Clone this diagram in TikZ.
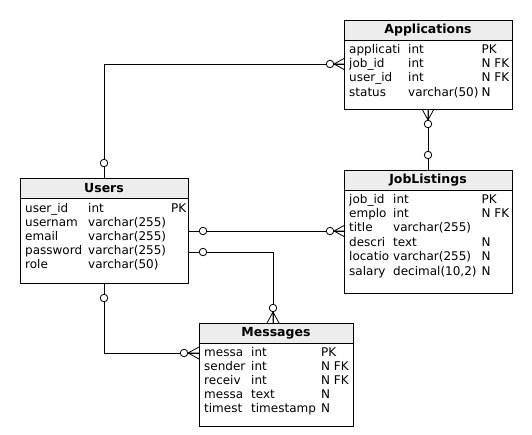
\documentclass[tikz,border=0pt]{standalone}
\usepackage{fontspec}
\setmainfont{DejaVu Sans}

\begin{document}
\begin{tikzpicture}[
        x=1pt, y=-1pt,
        font=\fontsize{12}{14}\selectfont,
        thead/.style={rectangle, draw=black, fill=black!7, line width=0.8pt, minimum width=168pt, minimum height=20pt, inner sep=0pt, font=\fontsize{12.5}{14}\selectfont\bfseries},
        tbody/.style={rectangle, draw=black, line width=0.8pt, minimum width=168pt, inner sep=0pt, anchor=north},
        cell/.style={anchor=base west, inner sep=0pt},
        link/.style={draw, black, line width=0.9pt},
        ring/.style={circle, draw=black, fill=white, line width=0.8pt, minimum size=7.5pt, inner sep=0pt},
        crow/.pic={\draw[line width=0.8pt] (0,0) -- (11,-6) (0,0) -- (11,0) (0,0) -- (11,6);}
    ]
    \useasboundingbox (0,0) rectangle (532,434);

    % ==========================================
    % 1. Tables
    % ==========================================
    % Applications
    \node[thead] (apph) at (428, 30) {Applications};
    \node[tbody, minimum height=69pt] (appb) at (apph.south) {};
    \foreach \n/\t/\k [count=\i] in {applicati/int/PK, job\_id/int/N FK, user\_id/int/N FK, status/varchar(50)/N} {
        \node[cell] (appn\i) at ({349}, {53+14.4*(\i-1)}) {\n};
        \node[cell] (appt\i) at ({408}, {53+14.4*(\i-1)}) {\t};
        \node[cell] (appk\i) at ({481.5}, {53+14.4*(\i-1)}) {\k};
    }

    % JobListings
    \node[thead] (jobh) at (428, 180) {JobListings};
    \node[tbody, minimum height=103pt] (jobb) at (jobh.south) {};
    \foreach \n/\t/\k [count=\i] in {job\_id/int/PK, emplo/int/N FK, title/varchar(255)/, descri/text/N, locatio/varchar(255)/N, salary/{decimal(10,2)}/N} {
        \node[cell] (jobn\i) at ({349}, {203+14.4*(\i-1)}) {\n};
        \node[cell] (jobt\i) at ({393}, {203+14.4*(\i-1)}) {\t};
        \node[cell] (jobk\i) at ({481.5}, {203+14.4*(\i-1)}) {\k};
    }

    % Users
    \node[thead] (usersh) at (104, 188) {Users};
    \node[tbody, minimum height=85pt] (usersb) at (usersh.south) {};
    \foreach \n/\t/\k [count=\i] in {user\_id/int/PK, usernam/varchar(255)/, email/varchar(255)/, password/varchar(255)/, role/varchar(50)/} {
        \node[cell] (usersn\i) at ({25}, {212.5+14*(\i-1)}) {\n};
        \node[cell] (userst\i) at ({88}, {212.5+14*(\i-1)}) {\t};
        \node[cell] (usersk\i) at ({171}, {212.5+14*(\i-1)}) {\k};
    }

    % Messages
    \node[thead, minimum width=154pt] (msgh) at (276, 333) {Messages};
    \node[tbody, minimum width=154pt, minimum height=83pt] (msgb) at (msgh.south) {};
    \foreach \n/\t/\k [count=\i] in {messa/int/PK, sender/int/N FK, receiv/int/N FK, messa/text/N, timest/timestamp/N} {
        \node[cell] (msgn\i) at ({204}, {356+14.2*(\i-1)}) {\n};
        \node[cell] (msgt\i) at ({251}, {356+14.2*(\i-1)}) {\t};
        \node[cell] (msgk\i) at ({321}, {356+14.2*(\i-1)}) {\k};
    }

    % ==========================================
    % 2. Relations
    % ==========================================
    \draw[link] (usersh.north) |- ([yshift=10.5pt]appb.west);
    \draw[link] (appb.south) -- (jobh.north);
    \draw[link] ([yshift=9.5pt]usersb.east) coordinate (u3) -- (u3 -| jobb.west);
    \draw[link] ([yshift=-11.5pt]usersb.east) -| ([xshift=-3pt]msgh.north);
    \draw[link] (usersb.south) |- ([yshift=32pt]msgb.west);

    % many-ends
    \pic at (334, 64) {crow};
    \pic[rotate=90] at (428, 120) {crow};
    \pic at (334, 231) {crow};
    \pic[rotate=-90] at (273, 312) {crow};
    \pic at (188, 353) {crow};
    \node[ring] (m1) at (330, 64) {};
    \node[ring] (m2) at (428, 124) {};
    \node[ring] (m3) at (330, 231) {};
    \node[ring] (m4) at (273, 308) {};
    \node[ring] (m5) at (184, 353) {};

    % one-ends
    \node[ring] (o1) at (104, 163) {};
    \node[ring] (o2) at (428, 155) {};
    \node[ring] (o3) at (203, 231) {};
    \node[ring] (o4) at (203, 252) {};
    \node[ring] (o5) at (104, 298) {};

\end{tikzpicture}
\end{document}
